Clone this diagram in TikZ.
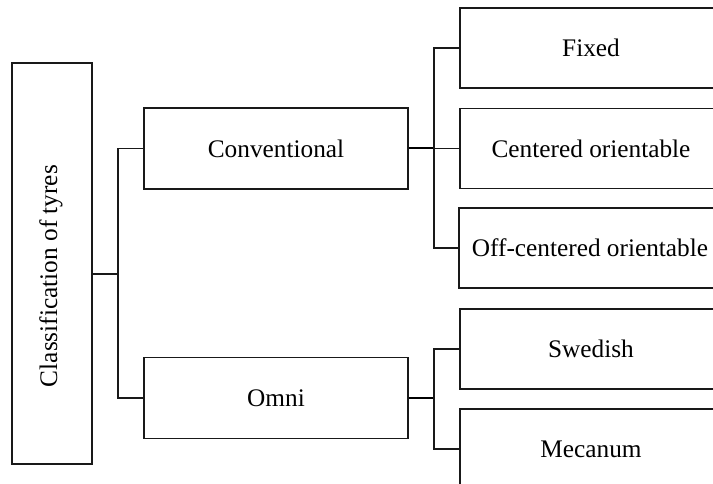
\documentclass[tikz,border=0pt]{standalone}
\usepackage{fontspec}
\setmainfont{Liberation Serif}
\begin{document}
\begin{tikzpicture}[x=1pt,y=-1pt,
  box/.style={draw=black!90, line width=1.2pt, rectangle, inner sep=0pt},
  midbox/.style={box, minimum width=264pt, minimum height=81pt},
  leafbox/.style={box, minimum width=262pt, minimum height=80pt},
  lbl/.style={font=\fontsize{25.3}{29}\selectfont, inner sep=0pt},
  conn/.style={draw=black!90, line width=1.2pt},
  thickconn/.style={draw=black, line width=2pt}]
\useasboundingbox (0,0) rectangle (713,484);
\clip (0,0) rectangle (713,484);
% root
\node[box, minimum width=80pt, minimum height=401pt] (root) at (52,263.5) {};
\node[lbl, rotate=90] (roottext) at (51,276) {Classification of tyres};
% second level
\node[midbox, lbl] (conv) at (276,148.5) {Conventional};
\node[midbox, lbl] (omni) at (276,398) {Omni};
% leaves
\node[leafbox, lbl] (fixed) at (591,48) {Fixed};
\node[leafbox, lbl] (cent) at (591,148.5) {Centered orientable};
\node[leafbox, lbl] (off) at (590,248) {Off-centered orientable};
\node[leafbox, lbl] (swed) at (591,349) {Swedish};
\node[leafbox, lbl] (mec) at (591,449) {Mecanum};
% junctions
\coordinate (rj) at (118,274);
\coordinate (cj) at (434,148.5);
\coordinate (oj) at (434,398);
% connectors
\draw[conn] (root.east |- rj) -- (rj);
\draw[conn] (conv.west) -| (rj) |- (omni.west);
\draw[thickconn] (conv.east) -- (cj);
\draw[conn] (fixed.west) -| (cj) |- (off.west);
\draw[conn] (cj) -- (cent.west);
\draw[thickconn] (omni.east) -- (oj);
\draw[conn] (swed.west) -| (oj) |- (mec.west);
\end{tikzpicture}
\end{document}
